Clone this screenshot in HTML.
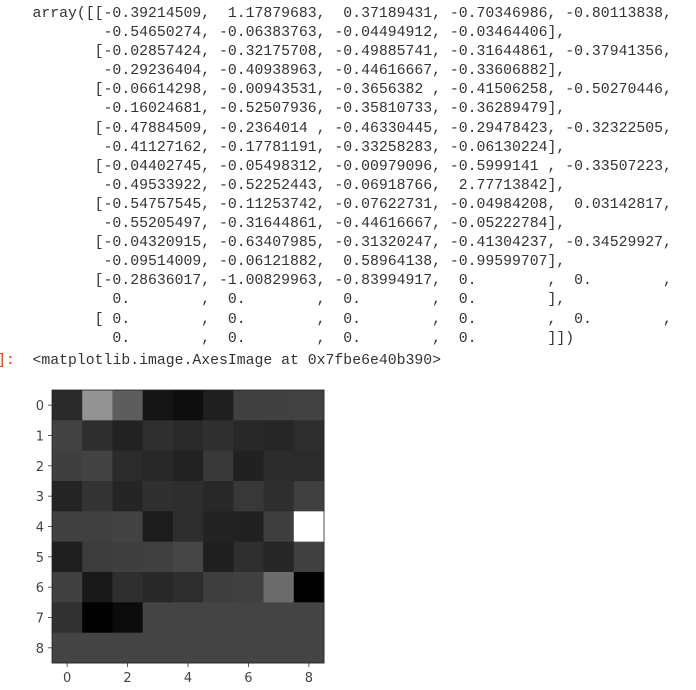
<!DOCTYPE html>
<html><head><meta charset="utf-8">
<style>
body{margin:0;background:#fff;width:696px;height:690px;overflow:hidden;position:relative;font-family:"Liberation Mono",monospace;}
pre{position:absolute;margin:0;font-family:"Liberation Mono",monospace;font-size:14.8px;line-height:19.1px;color:#333;}
#out{left:-3px;top:5px;}
#prompt{left:-3px;top:352px;}
svg{position:absolute;left:0;top:0;}
</style></head><body>
<pre id="out">    array([[-0.39214509,  1.17879683,  0.37189431, -0.70346986, -0.80113838,
            -0.54650274, -0.06383763, -0.04494912, -0.03464406],
           [-0.02857424, -0.32175708, -0.49885741, -0.31644861, -0.37941356,
            -0.29236404, -0.40938963, -0.44616667, -0.33606882],
           [-0.06614298, -0.00943531, -0.3656382 , -0.41506258, -0.50270446,
            -0.16024681, -0.52507936, -0.35810733, -0.36289479],
           [-0.47884509, -0.2364014 , -0.46330445, -0.29478423, -0.32322505,
            -0.41127162, -0.17781191, -0.33258283, -0.06130224],
           [-0.04402745, -0.05498312, -0.00979096, -0.5999141 , -0.33507223,
            -0.49533922, -0.52252443, -0.06918766,  2.77713842],
           [-0.54757545, -0.11253742, -0.07622731, -0.04984208,  0.03142817,
            -0.55205497, -0.31644861, -0.44616667, -0.05222784],
           [-0.04320915, -0.63407985, -0.31320247, -0.41304237, -0.34529927,
            -0.09514009, -0.06121882,  0.58964138, -0.99599707],
           [-0.28636017, -1.00829963, -0.83994917,  0.        ,  0.        ,
             0.        ,  0.        ,  0.        ,  0.        ],
           [ 0.        ,  0.        ,  0.        ,  0.        ,  0.        ,
             0.        ,  0.        ,  0.        ,  0.        ]])</pre>
<pre id="prompt"><span style="color:#d84315">]:</span>  &lt;matplotlib.image.AxesImage at 0x7fbe6e40b390&gt;</pre>
<svg id="chart" width="696" height="690"></svg>
<script>
const xTicks=[0,2,4,6,8];
const yTicks=[0,1,2,3,4,5,6,7,8];
const row0=[-0.39214509,1.17879683,0.37189431,-0.70346986,-0.80113838,-0.54650274,-0.06383763,-0.04494912,-0.03464406];
const row1=[-0.02857424,-0.32175708,-0.49885741,-0.31644861,-0.37941356,-0.29236404,-0.40938963,-0.44616667,-0.33606882];
const row2=[-0.06614298,-0.00943531,-0.3656382,-0.41506258,-0.50270446,-0.16024681,-0.52507936,-0.35810733,-0.36289479];
const row3=[-0.47884509,-0.2364014,-0.46330445,-0.29478423,-0.32322505,-0.41127162,-0.17781191,-0.33258283,-0.06130224];
const row4=[-0.04402745,-0.05498312,-0.00979096,-0.5999141,-0.33507223,-0.49533922,-0.52252443,-0.06918766,2.77713842];
const row5=[-0.54757545,-0.11253742,-0.07622731,-0.04984208,0.03142817,-0.55205497,-0.31644861,-0.44616667,-0.05222784];
const row6=[-0.04320915,-0.63407985,-0.31320247,-0.41304237,-0.34529927,-0.09514009,-0.06121882,0.58964138,-0.99599707];
const row7=[-0.28636017,-1.00829963,-0.83994917,0,0,0,0,0,0];
const row8=[0,0,0,0,0,0,0,0,0];
const grid=[row0,row1,row2,row3,row4,row5,row6,row7,row8];

const svg=document.getElementById('chart');
const NS='http://www.w3.org/2000/svg';
const L=52,T=390,R=324,B=663;
const nC=9,nR=9;
const cw=(R-L)/nC,ch=(B-T)/nR;
const xs=i=>L+(i+0.5)*cw, ys=j=>T+(j+0.5)*ch;
const all=grid.flat();
const vmin=Math.min(...all),vmax=Math.max(...all);
const col=v=>{const g=Math.round((v-vmin)/(vmax-vmin)*255);return `rgb(${g},${g},${g})`;};
grid.forEach((r,j)=>r.forEach((v,i)=>{
  const e=document.createElementNS(NS,'rect');
  e.setAttribute('x',xs(i)-cw/2);e.setAttribute('y',ys(j)-ch/2);
  e.setAttribute('width',cw+0.5);e.setAttribute('height',ch+0.5);
  e.setAttribute('fill',col(v));
  
  
  svg.appendChild(e);
}));
const fr=document.createElementNS(NS,'rect');
fr.setAttribute('x',L);fr.setAttribute('y',T);fr.setAttribute('width',R-L);fr.setAttribute('height',B-T);
fr.setAttribute('fill','none');fr.setAttribute('stroke','#222');fr.setAttribute('stroke-width','0.8');


svg.appendChild(fr);
function txt(x,y,s,anchor,name){
  const t=document.createElementNS(NS,'text');
  t.setAttribute('x',x);t.setAttribute('y',y);t.setAttribute('text-anchor',anchor);
  t.setAttribute('font-family','DejaVu Sans, sans-serif');t.setAttribute('font-size','13');t.setAttribute('fill','#444');
  t.textContent=s;
  
  
  svg.appendChild(t);
}
function tick(x1,y1,x2,y2){
  const l=document.createElementNS(NS,'line');
  l.setAttribute('x1',x1);l.setAttribute('y1',y1);l.setAttribute('x2',x2);l.setAttribute('y2',y2);
  l.setAttribute('stroke','#333');l.setAttribute('stroke-width','0.8');
  
  
  svg.appendChild(l);
}
xTicks.forEach(v=>{tick(xs(v),B,xs(v),B+4);txt(xs(v),B+19,String(v),'middle','x-tick-label');});
yTicks.forEach(v=>{tick(L-4,ys(v),L,ys(v));txt(L-8,ys(v)+5,String(v),'end','y-tick-label');});
</script>
</body></html>
